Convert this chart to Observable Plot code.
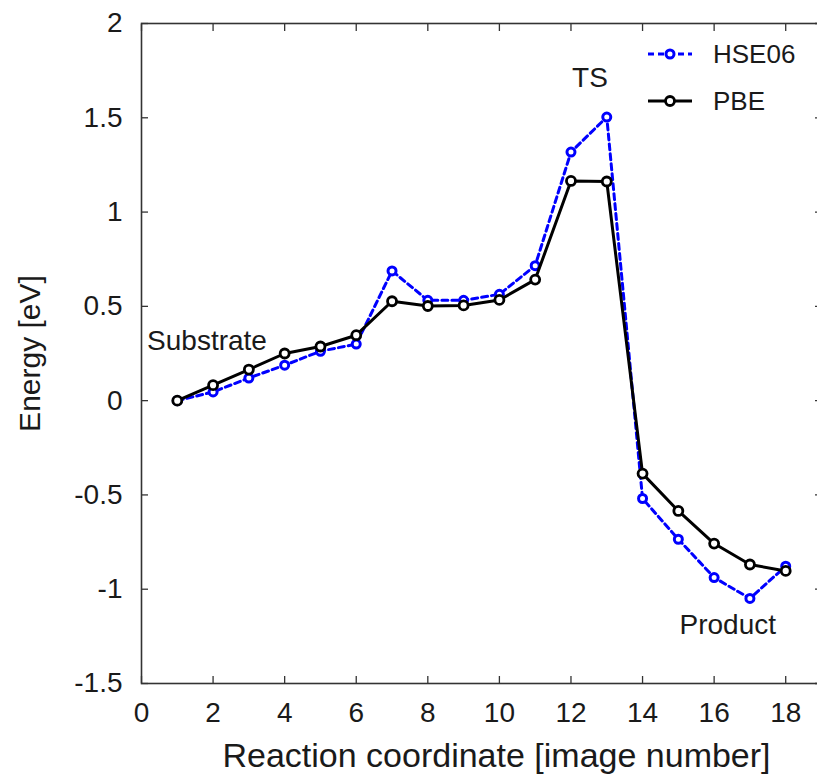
<!DOCTYPE html>
<html>
<head>
<meta charset="utf-8">
<script src="https://cdn.jsdelivr.net/npm/d3@7"></script>
<script src="https://cdn.jsdelivr.net/npm/@observablehq/plot@0.6"></script>
<style>
  html, body { margin: 0; padding: 0; background: white; overflow: hidden; }
  #wrap { position: relative; width: 817px; height: 774px; }
  #legend { position: absolute; left: 0; top: 0; pointer-events: none; }
</style>
</head>
<body>
<div id="wrap"></div>
<script>
// ---- data ----
const imageNumber = [1, 2, 3, 4, 5, 6, 7, 8, 9, 10, 11, 12, 13, 14, 15, 16, 17, 18];
const hse06 = [0, 0.046, 0.12, 0.188, 0.262, 0.30, 0.688, 0.532, 0.532, 0.564, 0.716, 1.318, 1.504, -0.519, -0.735, -0.938, -1.049, -0.878];
const pbe   = [0, 0.082, 0.165, 0.25, 0.287, 0.347, 0.527, 0.502, 0.505, 0.534, 0.642, 1.165, 1.162, -0.387, -0.585, -0.758, -0.869, -0.903];
const seriesNames = ["HSE06", "PBE"];
const xTicks = [0, 2, 4, 6, 8, 10, 12, 14, 16, 18];
const yTicks = [-1.5, -1, -0.5, 0, 0.5, 1, 1.5, 2];
const annotationText = ["Substrate", "TS", "Product"];
const annotationX = [1.83, 12.53, 16.38];
const annotationY = [0.315, 1.71, -1.19];
const xLabel = "Reaction coordinate [image number]";
const yLabel = "Energy [eV]";

const hseRows = imageNumber.map((x, i) => ({x, y: hse06[i]}));
const pbeRows = imageNumber.map((x, i) => ({x, y: pbe[i]}));
const annotations = annotationText.map((t, i) => ({t, x: annotationX[i], y: annotationY[i]}));

const FONT = "'Liberation Sans', Arial, sans-serif";
const BLUE = "#0000ff";
const AXIS = "#333333";
const INK = "#1a1a1a";

const chart = Plot.plot({
  width: 817,
  height: 774,
  marginLeft: 141,
  marginRight: -4,
  marginTop: 23,
  marginBottom: 91,
  style: {fontFamily: FONT, fontSize: "28px", color: INK, background: "white", overflow: "hidden"},
  x: {domain: [0, 19]},
  y: {domain: [-1.5, 2]},
  marks: [
    Plot.axisX({anchor: "bottom", ticks: xTicks, tickSize: -7, tickPadding: 26, tickFormat: d => String(d), label: null, stroke: AXIS, strokeWidth: 1.3, fontSize: 28}),
    Plot.axisX({anchor: "top", ticks: xTicks, tickSize: -7, tickFormat: () => "", label: null, stroke: AXIS, strokeWidth: 1.3}),
    Plot.axisY({anchor: "left", ticks: yTicks, tickSize: -7, tickPadding: 26, tickFormat: d => String(d), label: null, stroke: AXIS, strokeWidth: 1.3, fontSize: 28}),
    Plot.axisY({anchor: "right", ticks: yTicks, tickSize: -7, tickFormat: () => "", label: null, stroke: AXIS, strokeWidth: 1.3}),
    Plot.frame({stroke: AXIS, strokeWidth: 1.6}),
    Plot.line(hseRows, {x: "x", y: "y", stroke: BLUE, strokeWidth: 3, strokeDasharray: "6,4"}),
    Plot.dot(hseRows, {x: "x", y: "y", r: 4, stroke: BLUE, strokeWidth: 3, fill: "white"}),
    Plot.line(pbeRows, {x: "x", y: "y", stroke: "black", strokeWidth: 3}),
    Plot.dot(pbeRows, {x: "x", y: "y", r: 4.5, stroke: "black", strokeWidth: 2.8, fill: "white"}),
    Plot.text(annotations, {x: "x", y: "y", text: "t", fontSize: 28, fill: INK, textAnchor: "middle", lineAnchor: "middle"}),
    Plot.text([xLabel], {frameAnchor: "bottom", dx: 15, dy: 73, fontSize: 34, fill: INK, textAnchor: "middle", lineAnchor: "middle"}),
    Plot.text([yLabel], {frameAnchor: "left", dx: -111, rotate: -90, fontSize: 30, fill: INK, textAnchor: "middle", lineAnchor: "middle"})
  ]
});

const wrap = document.getElementById("wrap");
wrap.appendChild(chart);

// ---- legend overlay ----
const leg = d3.select(wrap).append("svg")
  .attr("id", "legend")
  .attr("width", 817).attr("height", 774);
const legItems = [
  {name: seriesNames[0], color: BLUE, dash: "6,4", r: 4, sw: 3},
  {name: seriesNames[1], color: "black", dash: null, r: 4.5, sw: 2.8}
];
legItems.forEach((d, i) => {
  const y = 54 + i * 47;
  leg.append("line").attr("x1", 648).attr("x2", 692).attr("y1", y).attr("y2", y)
    .attr("stroke", d.color).attr("stroke-width", 3).attr("stroke-dasharray", d.dash);
  leg.append("circle").attr("cx", 670).attr("cy", y).attr("r", d.r)
    .attr("stroke", d.color).attr("stroke-width", d.sw).attr("fill", "white");
  leg.append("text").attr("x", 713).attr("y", y).attr("dy", "0.35em")
    .attr("font-family", FONT).attr("font-size", 26).attr("fill", INK).text(d.name);
});
</script>
</body>
</html>
